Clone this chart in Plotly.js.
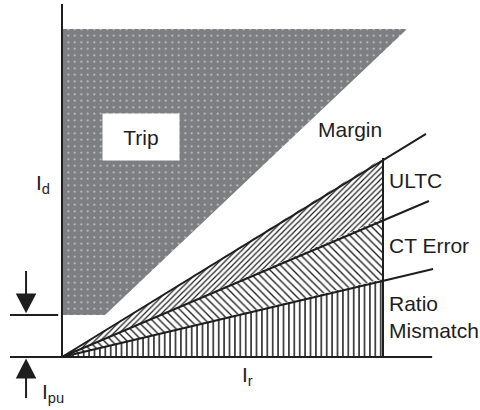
<!DOCTYPE html>
<html>
<head>
<meta charset="utf-8">
<script src="https://cdn.plot.ly/plotly-3.0.1.min.js"></script>
<style>html,body{margin:0;padding:0;background:#fff;}#chart{width:480px;height:410px;}</style>
</head>
<body>
<div id="chart"></div>
<script>
// ---- data (units: restraint current Ir, differential current Id) ----
const irKnee = [0, 10];                 // slope region, ends at vertical line
const ratioMismatchId = [0, 2.43];      // Id at Ir = 0 and Ir = 10
const ctErrorId = [0, 4.33];
const ultcId = [0, 6.20];
const lineEndIr = [11.56, 11.43, 11.34]; // extended slope lines: ratio, CT, ULTC
const lineEndId = [2.74, 4.86, 6.95];
const tripIr = [0, 10.75, 1.34, 0];
const tripId = [10.22, 10.22, 1.31, 1.31];
const Ipu = 1.31;
const axisIr = [-1.62, 11.53];
const axisIdTop = 11.0;
const labels = ["Trip", "Margin", "ULTC", "CT Error", "Ratio<br>Mismatch"];

const ink = '#1e1e1e';
const S = 32.1; // px per unit
const xr = [-62 / S, 418 / S];
const yr = [-53 / S, 357 / S];

const traces = [];
// Trip zone
traces.push({
  x: tripIr.concat([tripIr[0]]), y: tripId.concat([tripId[0]]),
  mode: 'lines', fill: 'toself', line: {width: 0, color: 'rgba(0,0,0,0)'},
  fillcolor: '#7d7e82',
  fillpattern: {shape: '.', size: 6.5, solidity: 0.08, fgcolor: '#cfcfd1', bgcolor: '#7d7e82'},
  hoverinfo: 'skip'
});
// Ratio mismatch region
traces.push({
  x: [irKnee[0], irKnee[1], irKnee[1], irKnee[0]],
  y: [0, 0, ratioMismatchId[1], ratioMismatchId[0]],
  mode: 'lines', fill: 'toself', line: {width: 0, color: 'rgba(0,0,0,0)'},
  fillcolor: 'white',
  fillpattern: {shape: '|', size: 5.4, solidity: 0.28, fgcolor: ink, bgcolor: 'white'},
  hoverinfo: 'skip'
});
// CT error region
traces.push({
  x: [irKnee[0], irKnee[1], irKnee[1], irKnee[0]],
  y: [ratioMismatchId[0], ratioMismatchId[1], ctErrorId[1], ctErrorId[0]],
  mode: 'lines', fill: 'toself', line: {width: 0, color: 'rgba(0,0,0,0)'},
  fillcolor: 'white',
  fillpattern: {shape: '\\', size: 5.4, solidity: 0.25, fgcolor: ink, bgcolor: 'white'},
  hoverinfo: 'skip'
});
// ULTC region
traces.push({
  x: [irKnee[0], irKnee[1], irKnee[1], irKnee[0]],
  y: [ctErrorId[0], ctErrorId[1], ultcId[1], ultcId[0]],
  mode: 'lines', fill: 'toself', line: {width: 0, color: 'rgba(0,0,0,0)'},
  fillcolor: 'white',
  fillpattern: {shape: '/', size: 4, solidity: 0.3, fgcolor: ink, bgcolor: 'white'},
  hoverinfo: 'skip'
});
// slope lines
for (let i = 0; i < lineEndIr.length; i++) {
  traces.push({x: [0, lineEndIr[i]], y: [0, lineEndId[i]], mode: 'lines',
    line: {color: ink, width: 2}, hoverinfo: 'skip'});
}
// vertical line at knee
traces.push({x: [irKnee[1], irKnee[1]], y: [0, ultcId[1]], mode: 'lines',
  line: {color: ink, width: 2}, hoverinfo: 'skip'});
// axes
traces.push({x: axisIr, y: [0, 0], mode: 'lines', line: {color: ink, width: 2}, hoverinfo: 'skip'});
traces.push({x: [0, 0], y: [0, axisIdTop], mode: 'lines', line: {color: ink, width: 2}, hoverinfo: 'skip'});
// pickup reference line
traces.push({x: [axisIr[0], -0.12], y: [Ipu, Ipu], mode: 'lines', line: {color: ink, width: 2}, hoverinfo: 'skip'});

// arrows (shapes), derived from Ipu
const ax = -1.12, hw = 0.32, hh = 0.62;
const shapes = [
  {type: 'line', x0: ax, x1: ax, y0: Ipu + 1.37, y1: Ipu + 0.5, line: {color: ink, width: 2}},
  {type: 'path', path: `M ${ax - hw} ${Ipu + 0.05 + hh} L ${ax + hw} ${Ipu + 0.05 + hh} L ${ax} ${Ipu + 0.05} Z`,
    fillcolor: ink, line: {width: 0}},
  {type: 'line', x0: ax, x1: ax, y0: -0.4, y1: -1.28, line: {color: ink, width: 2}},
  {type: 'path', path: `M ${ax - hw} ${-0.05 - hh} L ${ax + hw} ${-0.05 - hh} L ${ax} ${-0.05} Z`,
    fillcolor: ink, line: {width: 0}}
];

const F = 'Liberation Sans, Arial, sans-serif';
const ann = (text, x, y, opts) => Object.assign({text, x, y, xref: 'x', yref: 'y', showarrow: false,
  xanchor: 'left', yanchor: 'middle', font: {family: F, size: 21, color: ink}}, opts || {});
const subFont = {family: F, size: 21, color: ink};

const annotations = [
  ann(labels[0], 2.46, 6.85, {xanchor: 'center', bgcolor: 'white', width: 74, height: 44}),
  ann(labels[1], 8.97, 7.10, {xanchor: 'center'}),
  ann(labels[2], 10.12, 5.51),
  ann(labels[3], 10.12, 3.46),
  ann(labels[4], 10.12, 1.26, {align: 'left'}),
  ann('I<sub>d</sub>', -0.86, 5.40, {font: subFont}),
  ann('I<sub>pu</sub>', -0.70, -1.12, {font: subFont}),
  ann('I<sub>r</sub>', 5.53, -0.58, {font: subFont})
];

const layout = {
  width: 480, height: 410, autosize: false,
  margin: {l: 0, r: 0, t: 0, b: 0, pad: 0},
  paper_bgcolor: 'white', plot_bgcolor: 'white',
  showlegend: false,
  xaxis: {range: xr, visible: false, fixedrange: true},
  yaxis: {range: yr, visible: false, fixedrange: true},
  shapes, annotations
};

Plotly.newPlot('chart', traces, layout, {displayModeBar: false});
</script>
</body>
</html>
